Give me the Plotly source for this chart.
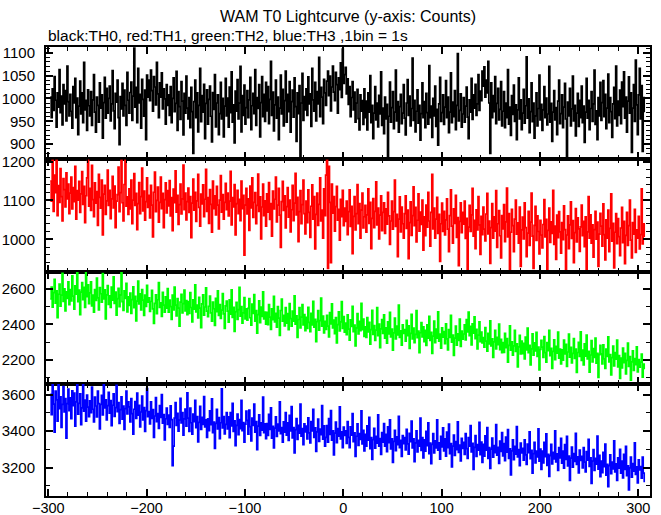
import plotly.graph_objects as go
from plotly.subplots import make_subplots

# time bins (1 bin = 1 s), from -298 s to 306 s
bins = list(range(-298, 307))

th0 = [
1003, 958, 1021, 974, 1048, 996, 937, 1012, 981, 1063, 969, 1005, 942, 1030, 988, 1017, 951, 1071, 993, 962,
1009, 972, 935, 1026, 990, 1044, 958, 1001, 921, 983, 1038, 966, 1012, 947, 1079, 975, 996, 930, 1019, 984,
962, 1015, 941, 997, 1052, 970, 926, 1003, 985, 948, 1034, 979, 1008, 913, 991, 1046, 957, 1022, 968, 1000,
1027, 951, 988, 1061, 973, 934, 1011, 992, 1040, 958, 899, 1004, 977, 1033, 962, 1018, 985, 941, 1057, 996,
968, 1013, 1036, 952, 1005, 1110, 981, 1024, 947, 1066, 990, 1009, 935, 1042, 998, 961, 1018, 910, 1051, 1003,
1040, 995, 1062, 1017, 972, 1048, 1025, 986, 1079, 1010, 958, 1034, 1003, 1056, 977, 1021, 999, 944, 1030, 985,
1008, 963, 1026, 947, 1000, 1045, 971, 989, 1059, 930, 1015, 982, 954, 1037, 994, 920, 1011, 968, 1049, 979,
955, 1002, 936, 1024, 971, 880, 993, 1040, 958, 1012, 927, 985, 1066, 949, 1006, 970, 1031, 912, 989, 1019,
944, 998, 1027, 961, 905, 1013, 976, 1052, 938, 990, 1008, 921, 967, 1035, 955, 1000, 916, 983, 1044, 962,
1001, 937, 1025, 969, 1058, 948, 986, 903, 1016, 972, 1041, 955, 990, 1070, 927, 1006, 963, 1029, 944, 980,
1017, 958, 997, 1046, 932, 984, 1011, 967, 1063, 941, 1002, 978, 1030, 916, 991, 1048, 960, 1009, 950, 1035,
973, 1026, 945, 998, 1081, 963, 1014, 929, 986, 1040, 957, 1003, 910, 979, 1051, 966, 1020, 940, 995, 1060,
948, 1009, 971, 1037, 926, 993, 1018, 959, 1045, 982, 906, 1012, 967, 1028, 874, 990, 1055, 952, 1004, 975,
1021, 963, 1047, 988, 1010, 939, 1066, 997, 972, 1035, 951, 1015, 988, 1090, 960, 1024, 1003, 945, 1042, 1012,
985, 1038, 1060, 1006, 1049, 973, 1025, 1071, 1014, 995, 1057, 1030, 968, 1045, 1019, 1078, 1002, 1108, 1033, 1052,
1068, 1010, 1043, 987, 1026, 960, 1002, 1037, 975, 1014, 948, 990, 1020, 956, 931, 1008, 972, 995, 943, 1021,
958, 994, 931, 1012, 970, 1050, 947, 985, 912, 968, 1026, 953, 990, 938, 1007, 966, 1058, 941, 979, 923,
1003, 955, 987, 872, 961, 1036, 948, 980, 1015, 934, 970, 1062, 951, 993, 926, 982, 1009, 945, 968, 1030,
957, 920, 990, 1041, 963, 1005, 940, 978, 1088, 952, 996, 927, 972, 1019, 946, 985, 909, 967, 1034, 958,
993, 936, 1011, 969, 944, 1072, 958, 983, 915, 1000, 962, 1027, 939, 976, 898, 988, 1046, 950, 969, 1008,
943, 981, 1039, 958, 1003, 925, 970, 1056, 947, 992, 960, 1017, 932, 985, 1098, 951, 974, 1010, 937, 966,
1002, 948, 983, 1025, 959, 912, 997, 970, 1044, 954, 1008, 979, 1031, 963, 988, 1052, 974, 1016, 995, 1060,
1027, 1069, 1003, 1040, 1012, 1081, 990, 880, 1034, 958, 1006, 971, 1048, 945, 989, 1022, 953, 976, 1037, 940,
972, 1015, 936, 990, 958, 1063, 944, 981, 919, 1006, 965, 1029, 950, 986, 910, 975, 1045, 955, 997, 932,
968, 1020, 946, 984, 1091, 957, 999, 925, 971, 1034, 949, 990, 913, 962, 1012, 940, 978, 1051, 953, 987,
930, 975, 1026, 958, 1001, 942, 966, 1070, 948, 989, 906, 970, 1017, 953, 980, 921, 994, 1040, 945, 967,
1008, 936, 981, 1033, 955, 874, 992, 962, 1022, 940, 977, 1049, 951, 985, 918, 968, 1011, 939, 996, 958,
1027, 947, 983, 904, 970, 1044, 957, 996, 932, 978, 1015, 950, 988, 1062, 943, 973, 910, 1002, 962, 1035,
952, 991, 1039, 960, 1009, 934, 979, 1053, 947, 1002, 971, 915, 988, 1024, 956, 1071, 940, 994, 963, 1018,
945, 1036, 982, 1058, 957, 1003, 926, 994, 1047, 968, 1012, 882, 979, 1030, 950, 1084, 986, 921, 1008, 1066,
955, 1028, 884, 1002, 970,
]

th1 = [
1150, 1098, 1203, 1072, 1165, 1120, 1203, 1061, 1138, 1095, 1182, 1110, 1047, 1156, 1128, 1083, 1171, 1104, 1142, 1066,
1119, 1160, 1078, 1133, 1097, 1188, 1052, 1125, 1101, 1149, 1069, 1117, 1174, 1090, 1136, 1043, 1112, 1158, 1203, 1085,
1131, 1074, 1190, 1102, 1058, 1145, 1093, 1123, 1036, 1167, 1108, 1080, 1152, 1011, 1116, 1139, 1064, 1099, 1178, 1087,
1126, 1053, 1104, 1162, 1081, 1137, 1030, 1098, 1115, 1186, 1071, 1120, 1203, 1094, 1047, 1141, 1203, 1085, 1109, 1064,
1130, 1078, 1152, 1040, 1101, 1169, 1087, 1118, 1025, 1092, 1146, 1066, 1110, 1183, 1073, 1124, 1049, 1097, 1158, 1082,
1113, 1055, 1139, 1088, 1006, 1121, 1173, 1071, 1100, 1134, 1044, 1095, 1160, 1079, 1118, 1030, 1102, 1145, 1068, 1125,
1086, 1151, 1060, 1107, 1022, 1129, 1094, 1176, 1070, 1113, 1038, 1089, 1142, 1065, 1104, 1191, 1076, 1119, 1050, 1097,
1132, 1069, 1110, 1004, 1093, 1155, 1075, 1121, 1046, 1099, 1167, 1082, 1034, 1116, 1091, 1140, 1058, 1103, 1180, 1072,
1107, 1041, 1128, 1090, 1018, 1150, 1079, 1112, 1063, 1136, 1088, 1027, 1101, 1164, 1070, 1115, 1052, 1095, 1144, 1076,
1119, 1060, 1098, 1175, 1037, 1107, 1083, 1141, 1011, 1092, 1126, 1066, 1103, 1048, 1150, 1079, 1113, 959, 1088, 1131,
1065, 1104, 1023, 1137, 1081, 1158, 1056, 1095, 1120, 1040, 1087, 1168, 1072, 1109, 1001, 1083, 1142, 1061, 1099, 1034,
1117, 1070, 1146, 1051, 1092, 1008, 1124, 1078, 1103, 1160, 1045, 1088, 1131, 1062, 979, 1097, 1149, 1074, 1112, 1029,
1084, 1133, 1057, 1101, 1019, 1076, 1139, 1048, 1093, 1170, 1063, 1108, 994, 1071, 1125, 1040, 1089, 1152, 1066, 1014,
1098, 1043, 1127, 1069, 1005, 1085, 1140, 1052, 1110, 975, 1064, 1119, 1036, 1090, 1158, 1047, 1075, 1003, 1130, 1061,
1165, 1203, 925, 1188, 1095, 940, 1142, 1067, 1110, 1021, 1084, 1136, 1049, 1077, 998, 1103, 1058, 1126, 1035, 1080,
1046, 1098, 1012, 1071, 1127, 1033, 1085, 963, 1059, 1110, 1024, 1066, 1141, 1040, 1092, 1003, 1075, 1119, 1029, 1058,
1087, 1018, 1063, 1130, 1041, 1095, 976, 1054, 1105, 1030, 1072, 1148, 1037, 1080, 1001, 1062, 1112, 1022, 1069, 1094,
1015, 1078, 1039, 1121, 1060, 987, 1047, 1098, 1026, 1071, 1152, 1033, 1064, 955, 1052, 1109, 1019, 1083, 1040, 1003,
1066, 1112, 1028, 1075, 950, 1043, 1096, 1010, 1061, 1135, 1035, 1082, 993, 1049, 1117, 1021, 1070, 1038, 1101, 972,
1058, 1009, 1088, 1031, 1121, 1047, 982, 1069, 1167, 1027, 1080, 1003, 1052, 1108, 1015, 1064, 943, 1040, 1093, 1020,
1072, 1011, 1050, 1104, 1026, 968, 1061, 1127, 1034, 990, 1078, 1041, 1113, 1005, 1056, 932, 1046, 1094, 1017, 1069,
1039, 1098, 1002, 1054, 915, 1031, 1087, 1020, 1063, 1131, 1008, 1049, 976, 1076, 1024, 1110, 1037, 961, 1059, 1012,
1083, 1026, 996, 1065, 1118, 1014, 1047, 938, 1030, 1092, 1003, 1058, 1021, 1125, 979, 1040, 1074, 1009, 952, 1061,
1027, 1089, 994, 1045, 1132, 1006, 1066, 921, 1018, 1077, 1035, 968, 1052, 1101, 1013, 1042, 990, 1083, 930, 1024,
1057, 1001, 1094, 1030, 955, 1016, 1072, 984, 1044, 1119, 1008, 925, 1036, 1085, 997, 1060, 1020, 962, 1049, 1011,
978, 1038, 1102, 1006, 1051, 917, 1023, 1080, 992, 1045, 1015, 1126, 987, 1034, 948, 1062, 1004, 1071, 1019, 964,
1043, 999, 1086, 1025, 918, 1011, 1060, 976, 1037, 1096, 1002, 1048, 940, 1017, 1079, 993, 1055, 1027, 969, 1032,
1088, 1009, 1046, 981, 1058, 921, 1019, 1110, 1003, 1063, 990, 1037, 954, 1025, 1072, 1000, 1044, 930, 1013, 1067,
1034, 982, 1091, 1012, 947, 1050, 1003, 1075, 968, 1028, 1117, 995, 1041, 926, 1018, 1066, 989, 1053, 1007, 958,
1029, 1082, 991, 1046, 937, 1010, 1069, 984, 1035, 1101, 998, 952, 1043, 1013, 1077, 966, 1024, 1003, 1059, 975,
1012, 1130, 988, 1040, 1006,
]

th2 = [
2545, 2612, 2498, 2580, 2655, 2520, 2590, 2438, 2571, 2629, 2503, 2566, 2690, 2531, 2602, 2477, 2585, 2548, 2641, 2512,
2598, 2533, 2676, 2560, 2487, 2619, 2572, 2700, 2529, 2594, 2455, 2583, 2637, 2541, 2610, 2496, 2701, 2557, 2624, 2518,
2579, 2641, 2505, 2566, 2470, 2598, 2536, 2663, 2551, 2482, 2609, 2574, 2527, 2688, 2545, 2596, 2431, 2568, 2620, 2514,
2562, 2497, 2611, 2538, 2670, 2519, 2583, 2452, 2546, 2604, 2501, 2567, 2695, 2529, 2480, 2590, 2548, 2633, 2471, 2556,
2508, 2578, 2462, 2541, 2613, 2495, 2559, 2420, 2532, 2646, 2516, 2574, 2483, 2597, 2538, 2451, 2566, 2502, 2621, 2527,
2551, 2474, 2530, 2593, 2488, 2406, 2519, 2568, 2461, 2540, 2637, 2497, 2523, 2445, 2582, 2510, 2469, 2556, 2492, 2603,
2470, 2538, 2501, 2429, 2566, 2483, 2612, 2509, 2448, 2547, 2492, 2391, 2526, 2571, 2465, 2518, 2594, 2477, 2535, 2456,
2529, 2463, 2581, 2496, 2414, 2540, 2487, 2625, 2471, 2510, 2437, 2553, 2492, 2382, 2517, 2568, 2452, 2499, 2608, 2475,
2444, 2503, 2561, 2466, 2418, 2527, 2489, 2395, 2548, 2473, 2590, 2451, 2512, 2434, 2481, 2575, 2460, 2377, 2505, 2532,
2476, 2413, 2539, 2458, 2596, 2440, 2497, 2361, 2472, 2525, 2429, 2484, 2610, 2447, 2501, 2408, 2466, 2552, 2432, 2489,
2425, 2491, 2547, 2438, 2396, 2515, 2462, 2569, 2419, 2478, 2350, 2456, 2533, 2410, 2499, 2445, 2585, 2431, 2470, 2402,
2468, 2399, 2512, 2441, 2372, 2488, 2427, 2559, 2415, 2463, 2385, 2501, 2436, 2338, 2479, 2543, 2418, 2452, 2392, 2496,
2407, 2462, 2371, 2518, 2433, 2390, 2475, 2419, 2562, 2402, 2449, 2326, 2428, 2495, 2381, 2441, 2512, 2397, 2456, 2365,
2440, 2378, 2497, 2412, 2359, 2463, 2398, 2531, 2385, 2429, 2302, 2416, 2478, 2367, 2422, 2549, 2391, 2447, 2352, 2418,
2372, 2451, 2390, 2329, 2467, 2403, 2516, 2381, 2425, 2348, 2439, 2296, 2399, 2472, 2363, 2415, 2530, 2377, 2444, 2356,
2408, 2342, 2455, 2374, 2311, 2426, 2389, 2503, 2359, 2397, 2279, 2381, 2462, 2346, 2418, 2365, 2520, 2370, 2431, 2332,
2386, 2327, 2439, 2358, 2412, 2289, 2371, 2480, 2343, 2394, 2310, 2368, 2496, 2337, 2402, 2268, 2375, 2427, 2349, 2455,
2322, 2381, 2294, 2415, 2347, 2468, 2330, 2373, 2255, 2352, 2436, 2318, 2390, 2341, 2509, 2326, 2364, 2283, 2398, 2349,
2371, 2305, 2423, 2336, 2392, 2264, 2349, 2457, 2318, 2380, 2297, 2344, 2478, 2325, 2362, 2240, 2353, 2411, 2329, 2386,
2302, 2367, 2281, 2398, 2323, 2446, 2310, 2355, 2236, 2334, 2419, 2297, 2373, 2322, 2471, 2306, 2345, 2266, 2381, 2328,
2359, 2291, 2404, 2318, 2256, 2371, 2326, 2452, 2299, 2340, 2225, 2323, 2391, 2283, 2347, 2310, 2430, 2275, 2362, 2317,
2346, 2398, 2312, 2427, 2358, 2470, 2336, 2389, 2284, 2404, 2351, 2443, 2320, 2372, 2261, 2339, 2415, 2302, 2357, 2295,
2326, 2271, 2382, 2305, 2249, 2349, 2290, 2421, 2278, 2318, 2213, 2301, 2366, 2262, 2327, 2286, 2402, 2257, 2315, 2240,
2297, 2241, 2349, 2268, 2320, 2186, 2281, 2392, 2254, 2301, 2226, 2279, 2366, 2247, 2290, 2160, 2273, 2338, 2233, 2306,
2234, 2293, 2205, 2328, 2256, 2379, 2240, 2281, 2171, 2262, 2347, 2226, 2296, 2250, 2355, 2219, 2271, 2142, 2258, 2310,
2272, 2214, 2331, 2240, 2186, 2297, 2252, 2366, 2223, 2265, 2151, 2247, 2313, 2201, 2276, 2238, 2357, 2209, 2260, 2177,
2256, 2198, 2312, 2233, 2287, 2163, 2244, 2345, 2215, 2270, 2182, 2236, 2320, 2207, 2261, 2129, 2241, 2299, 2219, 2358,
2196, 2255, 2171, 2290, 2220, 2339, 2205, 2247, 2130, 2227, 2308, 2188, 2263, 2214, 2322, 2181, 2236, 2100, 2229, 2281,
2233, 2176, 2284, 2205, 2151, 2261, 2219, 2330, 2188, 2229, 2114, 2212, 2277, 2165, 2241, 2203, 2312, 2160, 2224, 2095,
2209, 2154, 2266, 2184, 2236, 2120, 2196, 2295, 2163, 2218, 2085, 2188, 2251, 2140, 2207, 2172, 2273, 2131, 2201, 2158,
2186, 2232, 2102, 2175, 2146,
]

th3 = [
3602, 3490, 3661, 3548, 3395, 3620, 3571, 3455, 3661, 3523, 3588, 3421, 3547, 3644, 3506, 3579, 3362, 3551, 3630, 3512,
3583, 3468, 3621, 3540, 3609, 3427, 3561, 3655, 3493, 3552, 3604, 3436, 3528, 3661, 3509, 3570, 3455, 3598, 3532, 3479,
3566, 3502, 3641, 3520, 3450, 3587, 3538, 3478, 3619, 3551, 3412, 3546, 3596, 3489, 3655, 3527, 3572, 3461, 3540, 3613,
3498, 3567, 3430, 3542, 3604, 3481, 3529, 3651, 3507, 3556, 3442, 3518, 3588, 3466, 3537, 3409, 3524, 3620, 3495, 3560,
3533, 3451, 3578, 3496, 3384, 3520, 3562, 3470, 3609, 3488, 3541, 3423, 3505, 3592, 3462, 3529, 3398, 3512, 3633, 3479,
3507, 3439, 3561, 3470, 3518, 3366, 3483, 3584, 3452, 3496, 3415, 3540, 3476, 3600, 3444, 3491, 3352, 3468, 3527, 3437,
3488, 3421, 3539, 3463, 3210, 3318, 3472, 3556, 3432, 3497, 3400, 3461, 3580, 3445, 3502, 3378, 3467, 3521, 3427, 3610,
3471, 3398, 3527, 3446, 3384, 3493, 3452, 3569, 3419, 3480, 3341, 3448, 3536, 3409, 3475, 3437, 3590, 3423, 3462, 3365,
3468, 3402, 3511, 3436, 3577, 3391, 3449, 3305, 3443, 3519, 3412, 3474, 3359, 3446, 3632, 3418, 3480, 3385, 3437, 3502,
3412, 3478, 3364, 3501, 3429, 3552, 3398, 3456, 3320, 3432, 3494, 3381, 3463, 3414, 3569, 3402, 3447, 3340, 3438, 3510,
3459, 3384, 3516, 3425, 3346, 3471, 3432, 3548, 3395, 3452, 3298, 3428, 3490, 3377, 3445, 3406, 3587, 3392, 3440, 3359,
3441, 3376, 3492, 3410, 3528, 3362, 3426, 3308, 3417, 3479, 3371, 3438, 3401, 3561, 3386, 3420, 3339, 3451, 3395, 3502,
3378, 3446, 3349, 3487, 3401, 3535, 3363, 3420, 3281, 3408, 3469, 3355, 3432, 3389, 3548, 3372, 3414, 3326, 3440, 3396,
3427, 3358, 3473, 3390, 3335, 3452, 3401, 3519, 3365, 3418, 3289, 3396, 3466, 3344, 3411, 3381, 3540, 3356, 3429, 3317,
3366, 3431, 3339, 3469, 3382, 3512, 3350, 3402, 3270, 3389, 3450, 3337, 3414, 3373, 3533, 3358, 3396, 3310, 3422, 3376,
3401, 3333, 3452, 3366, 3310, 3423, 3378, 3496, 3342, 3391, 3262, 3372, 3440, 3321, 3387, 3355, 3511, 3330, 3404, 3291,
3382, 3317, 3429, 3350, 3476, 3304, 3364, 3245, 3353, 3415, 3306, 3371, 3334, 3489, 3318, 3359, 3272, 3392, 3340, 3441,
3317, 3383, 3288, 3423, 3337, 3462, 3302, 3358, 3229, 3344, 3404, 3293, 3369, 3326, 3481, 3309, 3350, 3262, 3376, 3331,
3364, 3297, 3410, 3330, 3274, 3388, 3342, 3455, 3308, 3357, 3232, 3336, 3401, 3286, 3349, 3318, 3472, 3294, 3365, 3253,
3352, 3290, 3399, 3320, 3445, 3277, 3334, 3221, 3327, 3386, 3281, 3346, 3308, 3462, 3295, 3336, 3246, 3371, 3314, 3418,
3291, 3357, 3263, 3395, 3310, 3438, 3276, 3331, 3204, 3318, 3378, 3267, 3342, 3298, 3451, 3283, 3324, 3236, 3360, 3305,
3338, 3272, 3386, 3304, 3251, 3365, 3317, 3430, 3286, 3333, 3190, 3311, 3376, 3262, 3326, 3295, 3448, 3271, 3340, 3229,
3327, 3263, 3374, 3295, 3420, 3250, 3309, 3196, 3301, 3362, 3257, 3320, 3282, 3436, 3268, 3311, 3223, 3345, 3289, 3392,
3264, 3331, 3238, 3367, 3285, 3409, 3251, 3303, 3160, 3292, 3352, 3244, 3316, 3273, 3425, 3258, 3298, 3211, 3334, 3280,
3306, 3241, 3352, 3270, 3217, 3329, 3282, 3396, 3249, 3294, 3170, 3276, 3339, 3226, 3290, 3258, 3412, 3235, 3301, 3190,
3291, 3226, 3338, 3260, 3385, 3212, 3272, 3152, 3266, 3327, 3220, 3284, 3247, 3402, 3231, 3275, 3184, 3309, 3253, 3360,
3224, 3290, 3197, 3326, 3245, 3371, 3209, 3263, 3130, 3252, 3313, 3203, 3277, 3234, 3388, 3218, 3259, 3171, 3296, 3240,
3262, 3198, 3309, 3230, 3176, 3288, 3241, 3355, 3206, 3254, 3113, 3236, 3298, 3185, 3250, 3219, 3373, 3192, 3267, 3150,
3236, 3172, 3284, 3205, 3329, 3158, 3218, 3095, 3211, 3270, 3166, 3230, 3193, 3347, 3176, 3220, 3129, 3253, 3197, 3300,
3170, 3236, 3144, 3272, 3190, 3316, 3155, 3209, 3078, 3198, 3258, 3148, 3222, 3181, 3335, 3163, 3204, 3116, 3243, 3187,
3206, 3142, 3258, 3170, 3119,
]

series = [th0, th1, th2, th3]
colors = ["#000000", "#ff0000", "#00ff00", "#0000ff"]
y_ranges = [[867, 1112.5], [917, 1206], [2064, 2700], [3044, 3660]]
y_major = [50, 100, 200, 200]
y_minor = [10, 20, 100, 100]

FONT = "Liberation Sans, Arial, Helvetica, sans-serif"

fig = make_subplots(rows=4, cols=1, shared_xaxes=True, vertical_spacing=0)

for i, (vals, col) in enumerate(zip(series, colors)):
    fig.add_trace(
        go.Scatter(
            x=bins[:len(vals)], y=vals, mode="lines",
            line=dict(color=col, width=1.7, shape="hv"),
            showlegend=False, hoverinfo="skip",
        ),
        row=i + 1, col=1,
    )

for i in range(4):
    fig.update_yaxes(
        range=y_ranges[i], dtick=y_major[i], tick0=0,
        showgrid=False, zeroline=False, automargin=False,
        showline=True, linecolor="black", linewidth=2, mirror="ticks",
        ticks="inside", ticklen=7, tickwidth=2, tickcolor="black",
        minor=dict(dtick=y_minor[i], tick0=0, ticks="inside", ticklen=4,
                   tickwidth=1, tickcolor="black", showgrid=False),
        tickfont=dict(family=FONT, size=15, color="black"),
        ticklabelstandoff=6,
        row=i + 1, col=1,
    )
    fig.update_xaxes(
        range=[-302.3, 311.9], dtick=100, tick0=0,
        showgrid=False, zeroline=False, automargin=False,
        showline=True, linecolor="black", linewidth=2, mirror="ticks",
        ticks="inside", ticklen=7, tickwidth=2, tickcolor="black",
        minor=dict(dtick=20, tick0=0, ticks="inside", ticklen=4,
                   tickwidth=1, tickcolor="black", showgrid=False),
        tickfont=dict(family=FONT, size=14.5, color="black"),
        ticklabelstandoff=-2,
        row=i + 1, col=1,
    )

fig.update_layout(
    width=661, height=515,
    margin=dict(l=46, r=11, t=47, b=19, autoexpand=False),
    paper_bgcolor="white", plot_bgcolor="white",
    font=dict(family=FONT, color="black"),
    annotations=[
        dict(text="WAM T0 Lightcurve (y-axis: Counts)", xref="paper", yref="paper",
             x=0.5, y=1.069, xanchor="center", yanchor="middle", showarrow=False,
             font=dict(family=FONT, size=16, color="black")),
        dict(text="black:TH0, red:TH1, green:TH2, blue:TH3 ,1bin = 1s", xref="paper", yref="paper",
             x=0.0, y=1.0267, xanchor="left", yanchor="middle", showarrow=False,
             font=dict(family=FONT, size=15.5, color="black")),
    ],
)

fig.write_html(
    "out.html",
    config={"displayModeBar": False, "staticPlot": True},
    post_script="document.body.style.margin='0';document.body.style.padding='0';"
                "document.body.style.overflow='hidden';",
)
